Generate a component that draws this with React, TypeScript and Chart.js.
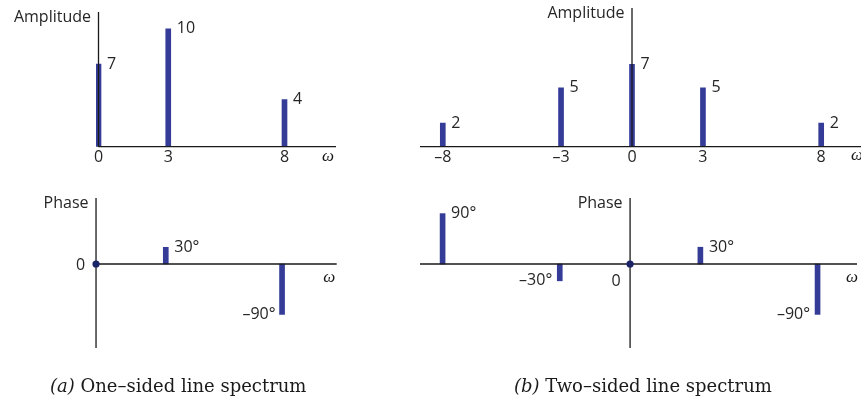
import React, { useEffect, useRef } from "react";
import { Chart, registerables } from "chart.js";
Chart.register(...registerables);

// ---- data ----
const oneSidedFreq = [0, 3, 8];
const oneSidedAmp = [7, 10, 4];
const oneSidedPhaseFreq = [3, 8];
const oneSidedPhase = [30, -90];
const twoSidedFreq = [-8, -3, 0, 3, 8];
const twoSidedAmp = [2, 5, 7, 5, 2];
const twoSidedPhaseFreq = [-8, -3, 3, 8];
const twoSidedPhase = [90, -30, 30, -90];
const originFreq = [0];
const originPhase = [0];
const oneSidedTicks = [0, 3, 8];
const twoSidedTicks = [-8, -3, 0, 3, 8];
const captionA = ["(a)", " One–sided line spectrum"];
const captionB = ["(b)", " Two–sided line spectrum"];

// ---- styles ----
const BAR = "#343c98";
const DOT = "#1c2468";
const INK = "#1a1a1a";
const TXT = "#262626";
const SANS = "16px 'Open Sans'";
const OMEGA = "italic 17px 'Liberation Serif'";

type Panel = {
  freq: number[];
  values: number[];
  kind: "amp" | "phase";
  title: string;
  ticks?: number[];
  dotFreq?: number[];
  dotVal?: number[];
  area: { left: number; right: number; top: number; bottom: number };
  xRange: [number, number];
  yRange: [number, number];
  xLineFrom?: number;
  omega: { dx: number; dy: number };
  zeroLabel?: { dx: number; dy: number };
  negDx: number;
};

const fmt = (v: number) => (v < 0 ? "–" + String(-v) : String(v));

const panels: Panel[] = [
  {
    freq: oneSidedFreq,
    values: oneSidedAmp,
    kind: "amp",
    title: "Amplitude",
    ticks: oneSidedTicks,
    area: { left: 96, right: 336, top: 12, bottom: 146.7 },
    xRange: [-0.1075, 10.215],
    yRange: [0, 11.42],
    xLineFrom: 0,
    omega: { dx: -8, dy: 9.5 },
    negDx: -7,
  },
  {
    freq: oneSidedPhaseFreq,
    values: oneSidedPhase,
    kind: "phase",
    title: "Phase",
    dotFreq: originFreq,
    dotVal: originPhase,
    area: { left: 93.7, right: 336.7, top: 198, bottom: 348 },
    xRange: [-0.1, 10.35],
    yRange: [-150, 117.9],
    xLineFrom: 0,
    omega: { dx: -7.5, dy: 14 },
    zeroLabel: { dx: -11, dy: 1 },
    negDx: -6.5,
  },
  {
    freq: twoSidedFreq,
    values: twoSidedAmp,
    kind: "amp",
    title: "Amplitude",
    ticks: twoSidedTicks,
    area: { left: 420, right: 861, top: 8, bottom: 146.7 },
    xRange: [-8.964, 9.683],
    yRange: [0, 11.8],
    omega: { dx: -4, dy: 8.5 },
    negDx: -7,
  },
  {
    freq: twoSidedPhaseFreq,
    values: twoSidedPhase,
    kind: "phase",
    title: "Phase",
    dotFreq: originFreq,
    dotVal: originPhase,
    area: { left: 420, right: 861, top: 198, bottom: 348 },
    xRange: [-8.964, 9.683],
    yRange: [-150, 117.9],
    omega: { dx: -5, dy: 13.5 },
    zeroLabel: { dx: -9.5, dy: 17 },
    negDx: -7.5,
  },
];

const W = 861;
const H = 409;

function makeChart(canvas: HTMLCanvasElement, p: Panel) {
  const datasets: any[] = [];
  if (p.dotFreq && p.dotVal) {
    datasets.push({
      type: "scatter",
      order: 0,
      data: p.dotFreq.map((f, i) => ({ x: f, y: p.dotVal![i] })),
      pointRadius: 3.6,
      pointBackgroundColor: DOT,
      pointBorderWidth: 0,
      clip: false,
    });
  }
  datasets.push({
    type: "bar",
    order: 1,
    data: p.freq.map((f, i) => ({ x: f, y: p.values[i] })),
    backgroundColor: BAR,
    borderWidth: 0,
    barThickness: 5,
  });

  const drawAxes = (chart: any) => {
    const { ctx, chartArea } = chart;
    const xs = chart.scales.x;
    const ys = chart.scales.y;
    const x0 = xs.getPixelForValue(0);
    const y0 = ys.getPixelForValue(0);
    const xStart = p.xLineFrom !== undefined ? xs.getPixelForValue(p.xLineFrom) : chartArea.left;
    ctx.save();
    ctx.strokeStyle = INK;
    ctx.lineWidth = 1.3;
    ctx.beginPath();
    ctx.moveTo(xStart, y0);
    ctx.lineTo(chartArea.right, y0);
    ctx.moveTo(x0, chartArea.top);
    ctx.lineTo(x0, chartArea.bottom);
    ctx.stroke();
    ctx.restore();
  };

  const plugin = {
    id: "spectrumDecor",
    afterDatasetDraw(chart: any, args: any) {
      if (args.meta.type === "bar") drawAxes(chart);
    },
    afterDatasetsDraw(chart: any) {
      const { ctx, chartArea } = chart;
      const xs = chart.scales.x;
      const ys = chart.scales.y;
      const x0 = xs.getPixelForValue(0);
      const y0 = ys.getPixelForValue(0);
      ctx.save();
      ctx.fillStyle = TXT;
      ctx.font = SANS;
      ctx.textBaseline = "middle";
      // value labels
      const meta = chart.getDatasetMeta(chart.data.datasets.length - 1);
      meta.data.forEach((el: any, i: number) => {
        const v = p.values[i];
        const txt = p.kind === "phase" ? fmt(v) + "°" : fmt(v);
        if (v >= 0) {
          ctx.textAlign = "left";
          ctx.fillText(txt, el.x + 8.5, el.y);
        } else {
          ctx.textAlign = "right";
          ctx.fillText(txt, el.x + p.negDx, el.y);
        }
      });
      // axis title
      ctx.textAlign = "right";
      ctx.fillText(p.title, x0 - 7.5, chartArea.top + 5);
      // ticks
      if (p.ticks) {
        ctx.textAlign = "center";
        p.ticks.forEach((t) => {
          ctx.fillText(fmt(t), xs.getPixelForValue(t), y0 + 10.5);
        });
      }
      if (p.zeroLabel) {
        ctx.textAlign = "right";
        ctx.fillText("0", x0 + p.zeroLabel.dx, y0 + p.zeroLabel.dy);
      }
      // omega
      ctx.font = OMEGA;
      ctx.fillStyle = INK;
      ctx.textAlign = "center";
      ctx.fillText("ω", chartArea.right + p.omega.dx, y0 + p.omega.dy);
      ctx.restore();
    },
  };

  return new Chart(canvas, {
    type: "bar",
    data: { datasets },
    options: {
      animation: false,
      responsive: false,
      devicePixelRatio: 1,
      events: [],
      layout: {
        padding: {
          left: p.area.left,
          right: W - p.area.right,
          top: p.area.top,
          bottom: H - p.area.bottom,
        },
      },
      plugins: { legend: { display: false }, tooltip: { enabled: false } },
      scales: {
        x: {
          type: "linear",
          display: false,
          offset: false,
          grid: { offset: false },
          min: p.xRange[0],
          max: p.xRange[1],
        },
        y: { type: "linear", display: false, min: p.yRange[0], max: p.yRange[1] },
      },
    } as any,
    plugins: [plugin],
  });
}

function PanelCanvas({ panel }: { panel: Panel }) {
  const ref = useRef<HTMLCanvasElement | null>(null);
  useEffect(() => {
    if (!ref.current) return;
    const c = makeChart(ref.current, panel);
    return () => c.destroy();
  }, [panel]);
  return (
    <canvas
      ref={ref}
      width={W}
      height={H}
      style={{ position: "absolute", left: 0, top: 0, width: W, height: H }}
    />
  );
}

const captionStyle: React.CSSProperties = {
  position: "absolute",
  top: 376,
  fontFamily: "'DejaVu Serif', serif",
  fontSize: 18,
  lineHeight: "20px",
  color: "#1a1a1a",
  whiteSpace: "nowrap",
};

export default function App() {
  return (
    <div
      style={{
        position: "fixed",
        left: 0,
        top: 0,
        width: W,
        height: H,
        background: "#ffffff",
        overflow: "hidden",
      }}
    >
      {panels.map((p, i) => (
        <PanelCanvas key={i} panel={p} />
      ))}
      <div style={{ ...captionStyle, left: 50 }}>
        <i>{captionA[0]}</i>
        {captionA[1]}
      </div>
      <div style={{ ...captionStyle, left: 514 }}>
        <i>{captionB[0]}</i>
        {captionB[1]}
      </div>
    </div>
  );
}
